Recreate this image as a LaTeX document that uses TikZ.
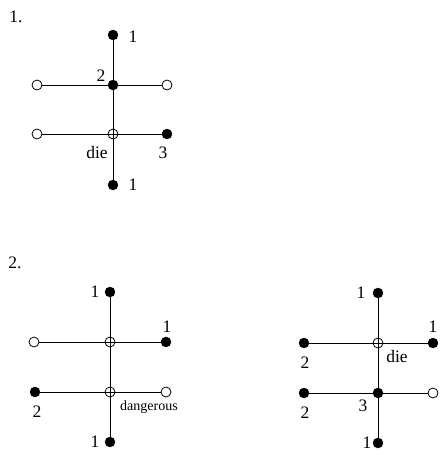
\documentclass[tikz,border=0pt]{standalone}
\usepackage{fontspec}
\setmainfont{Liberation Serif}
\begin{document}
\begin{tikzpicture}[x=1pt,y=-1pt,
  fdot/.style={circle,draw=black,fill=black,minimum size=10pt,inner sep=0pt},
  odot/.style={circle,draw=black,fill=white,line width=0.8pt,minimum size=10pt,inner sep=0pt},
  xdot/.style={circle,draw=black,line width=0.8pt,minimum size=10pt,inner sep=0pt},
  lbl/.style={inner sep=0pt,font=\fontsize{17.5}{19}\selectfont},
  slbl/.style={inner sep=0pt,font=\fontsize{14}{16}\selectfont},
  edge/.style={line width=0.8pt}]
\useasboundingbox (0,0) rectangle (441,455);
% --- 1.
\node[lbl] (n1) at (16,17) {1.};
\node[fdot] (a1) at (113,35) {};
\node[fdot] (a2) at (113,85) {};
\node[odot] (a2l) at (37,85) {};
\node[odot] (a2r) at (167,85) {};
\node[xdot] (a3) at (113,134) {};
\node[odot] (a3l) at (37,134) {};
\node[fdot] (a3r) at (167,134) {};
\node[fdot] (a4) at (113,185) {};
\draw[edge] (a1) -- (a4);
\draw[edge] (a2l) -- (a2r);
\draw[edge] (a3l) -- (a3r);
\node[lbl] (a1t) at (133,37) {1};
\node[lbl] (a2t) at (101,76) {2};
\node[lbl] (a3t) at (97,153) {die};
\node[lbl] (a3rt) at (163,153) {3};
\node[lbl] (a4t) at (133,185) {1};
% --- 2.
\node[lbl] (n2) at (15,263) {2.};
\node[fdot] (b1) at (110,292) {};
\node[xdot] (b2) at (110,342) {};
\node[odot] (b2l) at (34,342) {};
\node[fdot] (b2r) at (166,342) {};
\node[xdot] (b3) at (110,392) {};
\node[fdot] (b3l) at (35,392) {};
\node[odot] (b3r) at (166,392) {};
\node[fdot] (b4) at (110,442) {};
\draw[edge] (b1) -- (b4);
\draw[edge] (b2l) -- (b2r);
\draw[edge] (b3l) -- (b3r);
\node[lbl] (b1t) at (95,292) {1};
\node[lbl] (b2rt) at (167,327) {1};
\node[lbl] (b3lt) at (37,412) {2};
\node[slbl] (b3t) at (149,407) {dangerous};
\node[lbl] (b4t) at (95,442) {1};
% --- right
\node[fdot] (c1) at (378,293) {};
\node[xdot] (c2) at (378,343) {};
\node[fdot] (c2l) at (304,343) {};
\node[fdot] (c2r) at (433,343) {};
\node[fdot] (c3) at (378,393) {};
\node[fdot] (c3l) at (304,393) {};
\node[odot] (c3r) at (433,393) {};
\node[fdot] (c4) at (378,443) {};
\draw[edge] (c1) -- (c4);
\draw[edge] (c2l) -- (c2r);
\draw[edge] (c3l) -- (c3r);
\node[lbl] (c1t) at (361,293) {1};
\node[lbl] (c2rt) at (433,327) {1};
\node[lbl] (c2lt) at (305,363) {2};
\node[lbl] (c2t) at (397,357) {die};
\node[lbl] (c3lt) at (305,413) {2};
\node[lbl] (c3t) at (363,406) {3};
\node[lbl] (c4t) at (367,443) {1};
\end{tikzpicture}
\end{document}
